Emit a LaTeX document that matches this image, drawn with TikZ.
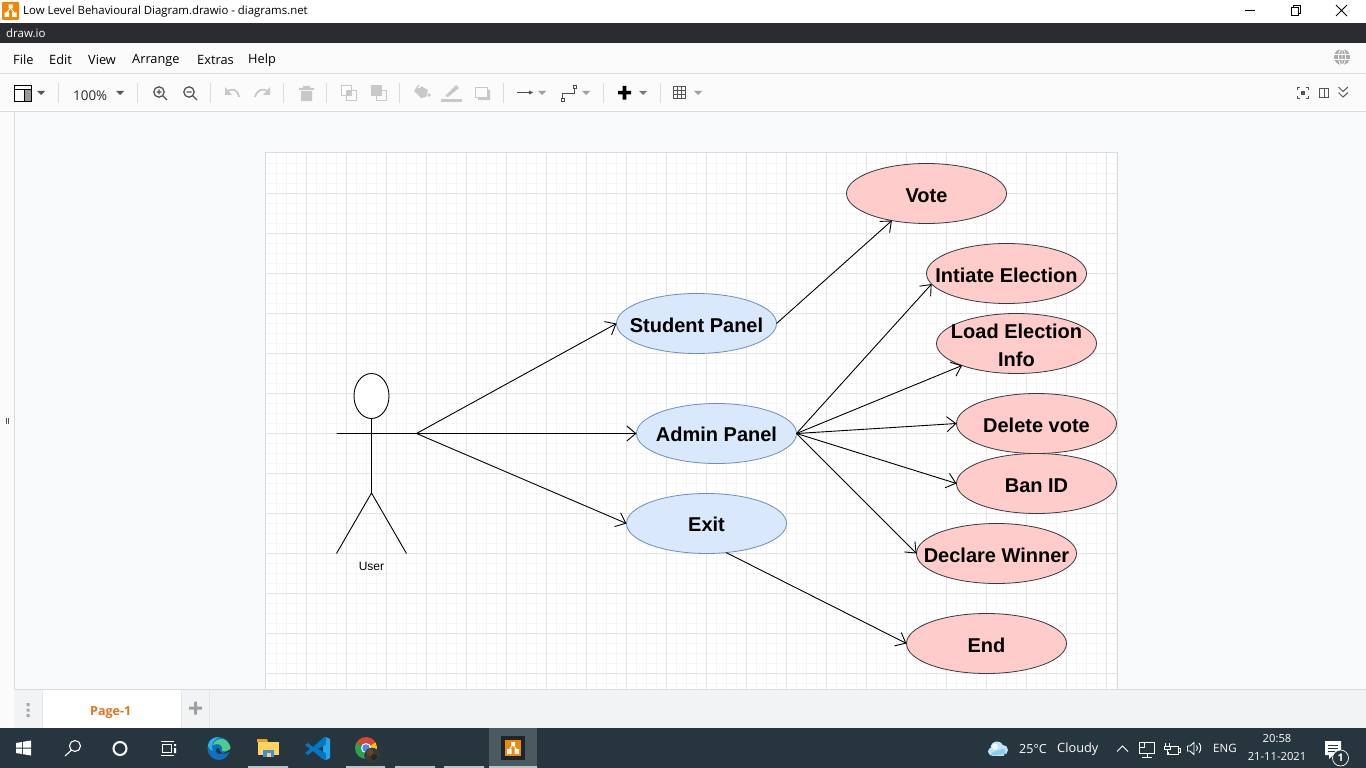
\documentclass[tikz,border=0pt]{standalone}
\usepackage{fontspec}
\setmainfont{Liberation Sans}
\newfontfamily\uifont{Open Sans}
\usetikzlibrary{arrows.meta,shapes.geometric}
\definecolor{barDark}{HTML}{2A2C30}
\definecolor{uiBg}{HTML}{FBFBFB}
\definecolor{uiLine}{HTML}{DADCE0}
\definecolor{canvasBg}{HTML}{F8F9FA}
\definecolor{tabBg}{HTML}{F1F3F4}
\definecolor{taskBg}{HTML}{27353E}
\definecolor{taskHi}{HTML}{4B5960}
\definecolor{drawOrange}{HTML}{F08705}
\definecolor{pageOrange}{HTML}{E8711A}
\definecolor{iconDark}{HTML}{555555}
\definecolor{iconGrey}{HTML}{C8C8C8}
\definecolor{gridMajor}{HTML}{E4E4E4}
\definecolor{gridMinor}{HTML}{F5F5F5}
\definecolor{blueFill}{HTML}{DAE8FC}
\definecolor{blueLine}{HTML}{6C8EBF}
\definecolor{redFill}{HTML}{FFCCCC}
\definecolor{redLine}{HTML}{36393D}
\definecolor{edgeBlue}{HTML}{0F6FC0}
\definecolor{edgeCyan}{HTML}{2BB3E8}
\definecolor{edgeGreen}{HTML}{4FCB8A}
\definecolor{folderY}{HTML}{FFD35C}
\definecolor{folderO}{HTML}{E8A317}
\definecolor{folderB}{HTML}{3C8FD8}
\definecolor{codeL}{HTML}{0078C4}
\definecolor{codeR}{HTML}{22A7F0}
\definecolor{chromeR}{HTML}{DB4437}
\definecolor{chromeG}{HTML}{2E9E50}
\definecolor{chromeY}{HTML}{F4C20D}
\definecolor{chromeB}{HTML}{4A8AF0}
\definecolor{cloudA}{HTML}{BFE3F7}
\definecolor{cloudB}{HTML}{8CCBEE}
\tikzset{
  blueUse/.style={ellipse,draw=blueLine,fill=blueFill,line width=.8pt,minimum width=160pt,minimum height=60pt,inner xsep=-40pt,inner ysep=-25pt,outer sep=0pt,align=center,font=\fontsize{20}{28}\selectfont\bfseries},
  redUse/.style={blueUse,draw=redLine,fill=redFill},
  link/.style={line width=.9pt,-{Straight Barb[length=9pt,width=15pt,line width=.9pt]}},
  stick/.style={line width=.9pt,black},
  ui/.style={inner sep=0pt,anchor=west,font=\uifont\fontsize{12.8}{15}\selectfont,text=#1},
  ui/.default=black,
  tbdark/.style={draw=iconDark,line width=1.2pt},
  tbgrey/.style={draw=iconGrey,line width=1.2pt},
  sep/.style={draw=uiLine,line width=1pt}
}
\newcommand{\drop}[3]{\fill[#3] (#1-4,#2-2) -- (#1+4,#2-2) -- (#1,#2+2) -- cycle;}
\newcommand{\ulbl}[1]{\raisebox{-1.8pt}[\height][\depth]{#1}}
\newcommand{\ulblhi}[1]{\raisebox{-.5pt}[\height][\depth]{#1}}
\begin{document}
\begin{tikzpicture}[x=1pt,y=-1pt]
\useasboundingbox (0,0) rectangle (1366,768);
% --- window background
\fill[white] (0,0) rectangle (1366,23);
\fill[barDark] (0,23) rectangle (1366,43);
\fill[uiBg] (0,43) rectangle (1366,112);
\draw[uiLine] (0,73.5) -- (1366,73.5) (0,111.5) -- (1366,111.5);
\fill[canvasBg] (14,112) rectangle (1366,690);
\fill[uiBg] (0,112) rectangle (14,728);
\draw[uiLine] (14.5,112) -- (14.5,728);
% --- page and grid
\fill[white] (266,153) rectangle (1117,690);
\foreach \k in {1,...,85} {\draw[gridMinor,line width=1pt] (266+10*\k+.5,153) -- (266+10*\k+.5,690);}
\foreach \k in {1,...,53} {\draw[gridMinor,line width=1pt] (266,153+10*\k+.5) -- (1117,153+10*\k+.5);}
\foreach \k in {1,...,21} {\draw[gridMajor,line width=1pt] (266+40*\k+.5,153) -- (266+40*\k+.5,690);}
\foreach \k in {1,...,13} {\draw[gridMajor,line width=1pt] (266,153+40*\k+.5) -- (1117,153+40*\k+.5);}
\draw[uiLine,line width=1pt] (265.5,690) -- (265.5,152.5) -- (1117.5,152.5) -- (1117.5,690);
% --- title bar
\fill[drawOrange,rounded corners=1pt] (2,2) rectangle (19,20);
\fill[white] (8.5,4.5) rectangle (12.5,8.5) (4.5,12.5) rectangle (9,17) (12,12.5) rectangle (16.5,17);
\draw[white,line width=1pt] (10.5,8) -- (6.7,13) (10.5,8) -- (14.3,13);
\node[ui,font=\uifont\fontsize{11.4}{14}\selectfont] (title) at (23,11.5) {Low Level Behavioural Diagram.drawio - diagrams.net};
\draw[black,line width=1pt] (1245,10.5) -- (1255,10.5);
\draw[black,line width=1pt] (1291.5,7.5) rectangle (1298.5,15.5) (1293.5,7.5) -- (1293.5,5.5) -- (1300.5,5.5) -- (1300.5,13.5) -- (1298.5,13.5);
\draw[black,line width=.9pt] (1336,5) -- (1347,16) (1347,5) -- (1336,16);
\node[ui=white,font=\uifont\fontsize{11.5}{14}\selectfont] (appname) at (6,33) {draw.io};
% --- menu
\node[ui] (mfile) at (13,60) {File};
\node[ui] (medit) at (49,60) {Edit};
\node[ui] (mview) at (88,60) {View};
\node[ui] (marr) at (132,60) {Arrange};
\node[ui] (mext) at (197,60) {Extras};
\node[ui] (mhelp) at (248,60) {Help};
% globe
\fill[iconGrey!85!black] (1342,57) circle (8);
\draw[white,line width=.8pt] (1342,57) ellipse (3.5 and 8) (1334,54.5) -- (1350,54.5) (1334,59.5) -- (1350,59.5) (1342,49) -- (1342,65);
% --- toolbar
\draw[black,line width=1pt] (14.5,85.5) rectangle (31.5,101.5) (14.5,89.5) -- (31.5,89.5) (24.5,89.5) -- (24.5,101.5);
\fill[gray!80] (25,90) rectangle (31,101);
\drop{41}{93}{iconDark}
\draw[sep] (58.5,83) -- (58.5,103);
\node[ui=black!85,font=\uifont\fontsize{13.4}{15}\selectfont] (zoomlevel) at (73,95.5) {100\%};
\drop{120}{93}{iconDark}
\draw[sep] (137.5,83) -- (137.5,103);
\draw[tbdark,line width=1.3pt] (159,92) circle (5.2) (163,96) -- (167,100) (156.5,92) -- (161.5,92) (159,89.5) -- (159,94.5);
\draw[tbdark,line width=1.3pt] (189,92) circle (5.2) (193,96) -- (197,100) (186.5,92) -- (191.5,92);
\draw[sep] (210.5,83) -- (210.5,103);
\draw[tbgrey,line width=1.8pt] (227,92) .. controls (232,87) and (238,90) .. (239,97);
\fill[iconGrey] (225,87) -- (225,95) -- (232,95) -- cycle;
\draw[tbgrey,line width=1.8pt] (268,92) .. controls (263,87) and (257,90) .. (255,97);
\fill[iconGrey] (270,87) -- (270,95) -- (263,95) -- cycle;
\draw[sep] (283.5,83) -- (283.5,103);
\fill[iconGrey] (299,88) rectangle (314,90) (303,86) rectangle (310,88) (301,91) rectangle (312,101);
\draw[sep] (326.5,83) -- (326.5,103);
\draw[tbgrey,line width=1pt] (341.5,85.5) rectangle (351.5,95.5) (346.5,90.5) rectangle (356.5,100.5);
\fill[white] (342,86) rectangle (351,95);
\fill[iconGrey] (346,90) rectangle (351,95);
\draw[tbgrey,line width=1pt] (371.5,85.5) rectangle (381.5,95.5) (376.5,90.5) rectangle (386.5,100.5);
\fill[iconGrey] (372,86) rectangle (381,95);
\draw[sep] (399.5,83) -- (399.5,103);
\fill[iconGrey] (419,85) -- (428,90) -- (426,97) -- (421,98) -- (414,91) -- cycle;
\fill[uiBg] (415,84) -- (422,84) -- (420,88) -- (416,88) -- cycle;
\draw[tbgrey] (416,89) -- (419,85);
\fill[iconGrey] (429,95) circle (1.8);
\fill[iconGrey] (441,99) rectangle (462,102);
\fill[iconGrey] (445,96) -- (456,85) -- (459,88) -- (448,97) -- cycle;
\draw[tbgrey,line width=1pt] (475.5,87.5) rectangle (487.5,97.5);
\fill[iconGrey] (478,98) rectangle (490,100) (488,90) rectangle (490,100);
\draw[sep] (503.5,83) -- (503.5,103);
\draw[black!70,line width=.9pt] (517,92.5) -- (531,92.5) (529,91) -- (532,92.5) -- (529,94);
\drop{542}{93}{iconGrey!80!black}
\draw[black!70,line width=1pt] (562.5,98.5) -- (562.5,93.5) -- (574.5,93.5) -- (574.5,88);
\fill[white,draw=black!70] (561,98) rectangle (564,101) (573,85.5) rectangle (576,88.5);
\drop{586}{93}{iconGrey!80!black}
\draw[sep] (603.5,83) -- (603.5,103);
\fill[black] (618,91) rectangle (631,94.5) (622.7,86) rectangle (626.3,99.5);
\drop{643}{93}{iconGrey!60!black}
\draw[sep] (660.5,83) -- (660.5,103);
\draw[iconDark,line width=.9pt] (673.5,86.5) rectangle (685.5,98.5) (673.5,90.5) -- (685.5,90.5) (673.5,94.5) -- (685.5,94.5) (677.5,86.5) -- (677.5,98.5) (681.5,86.5) -- (681.5,98.5);
\drop{698}{93}{iconGrey!80!black}
\draw[iconDark,line width=1.3pt] (1297.5,90) -- (1297.5,87.5) -- (1300,87.5) (1305.5,87.5) -- (1308.5,87.5) -- (1308.5,90) (1297.5,96) -- (1297.5,98.5) -- (1300,98.5) (1305.5,98.5) -- (1308.5,98.5) -- (1308.5,96);
\fill[iconDark] (1301,91) rectangle (1305,95);
\draw[iconDark,line width=.9pt] (1319,88.5) rectangle (1328,97.5) (1324,88.5) -- (1324,97.5);
\draw[iconDark,line width=1pt] (1338.5,87) -- (1343,91.5) -- (1348,87) (1338.5,92.5) -- (1343,97) -- (1348,92.5);
% left handle
\draw[iconDark,line width=.6pt] (6,418) -- (6,424) (8.5,418) -- (8.5,424);
% --- diagram: use cases
\node[blueUse] (student) at (696.5,323.5) {\ulbl{Student Panel}};
\node[blueUse] (admin) at (716.5,433.5) {\ulblhi{Admin Panel}};
\node[blueUse] (exit) at (706.5,523.5) {\ulblhi{Exit}};
\node[redUse] (vote) at (926.5,193.5) {\ulbl{Vote}};
\node[redUse] (initiate) at (1006.5,273.5) {\ulbl{Intiate Election}};
\node[redUse] (load) at (1016.5,343.5) {\ulbl{Load Election}\\\ulbl{Info}};
\node[redUse] (delete) at (1036.5,423.5) {\ulbl{Delete vote}};
\node[redUse] (ban) at (1036.5,483.5) {\ulbl{Ban ID}};
\node[redUse] (declare) at (996.5,553.5) {\ulbl{Declare Winner}};
\node[redUse] (end) at (986.5,643.5) {\ulbl{End}};
% --- actor
\node[ellipse,draw=black,fill=white,line width=.9pt,minimum width=35pt,minimum height=45pt,inner sep=0pt,outer sep=0pt] (head) at (371.5,396) {};
\coordinate (hip) at (371.5,493);
\coordinate (armL) at (336.5,433.5);
\coordinate (fork) at (416.5,433.5);
\coordinate (footL) at (336.5,553.5);
\coordinate (footR) at (406.5,553.5);
\draw[stick] (head.south) -- (hip) (hip) -- (footL) (hip) -- (footR) (armL) -- (fork);
\node[inner sep=0pt,font=\fontsize{12}{14}\selectfont] (user) at (371.5,566.5) {User};
% --- connectors
\draw[link] (fork) -- (student.west);
\draw[link] (fork) -- (admin.west);
\draw[link] (fork) -- (exit.west);
\draw[link] (student.east) -- (vote.218);
\draw[link] (admin.east) -- (initiate.188);
\draw[link] (admin.east) -- (load.202);
\draw[link] (admin.east) -- (delete.west);
\draw[link] (admin.east) -- (ban.west);
\draw[link] (admin.east) -- (declare.west);
\draw[link] (exit.304) -- (end.west);
% --- tab bar
\fill[tabBg] (14,690) rectangle (1366,728);
\draw[uiLine] (14,689.5) -- (1366,689.5);
\fill[white] (43,690) rectangle (181,728);
\draw[uiLine!70] (42.5,690) -- (42.5,728) (181.5,690) -- (181.5,728) (209.5,690) -- (209.5,728);
\fill[gray!70] (26.5,703) rectangle (29.5,706) (26.5,708.5) rectangle (29.5,711.5) (26.5,714) rectangle (29.5,717);
\node[ui=pageOrange,font=\uifont\bfseries\fontsize{12.5}{14}\selectfont] (page) at (90,713) {Page-1};
\fill[gray!75] (189,706.5) rectangle (202,709.5) (194,701.5) rectangle (197,714.5);
% --- task bar
\fill[taskBg] (0,728) rectangle (1366,768);
\fill[taskHi] (489,728) rectangle (537,768);
\fill[white] (16,743) -- (22,742) -- (22,747.5) -- (16,747.5) -- cycle (23,741.8) -- (31,740.5) -- (31,747.5) -- (23,747.5) -- cycle (16,748.5) -- (22,748.5) -- (22,754) -- (16,753) -- cycle (23,748.5) -- (31,748.5) -- (31,755.5) -- (23,754.2) -- cycle;
\draw[white,line width=1.1pt] (75,746) circle (5.5) (71,750.5) -- (65,756);
\draw[white,line width=2pt] (120,748.5) circle (6.5);
\draw[white,line width=1pt] (161,741.5) -- (174,741.5) (161,755.5) -- (174,755.5) (162.5,744.5) rectangle (171.5,752.5);
\fill[white] (174,744) rectangle (176,746) (174,748) rectangle (176,753);
% edge
\fill[edgeBlue] (219,748.5) circle (11.5);
\fill[edgeCyan] (207.8,746) .. controls (209,739) and (214,737) .. (219,737) .. controls (214,740) and (210,744) .. (213,751) .. controls (211,750) and (209,749) .. (207.8,746) -- cycle;
\fill[edgeGreen] (213,745) .. controls (215,738) and (226,735) .. (230.5,747) .. controls (230.5,751) and (226,752) .. (222,751) .. controls (224,746) and (219,742) .. (213,745) -- cycle;
\fill[taskBg] (222.5,753.5) .. controls (226,754) and (229,753) .. (230.5,750) .. controls (229,755) and (226,759) .. (222,760) -- (229,760) -- (232,750) -- (231,749) -- cycle;
\fill[taskBg] (217,748) .. controls (214,752) and (218,755) .. (222.5,753.5) .. controls (220,752) and (219,750) .. (219,748) -- cycle;
% explorer
\fill[folderO] (257,739) -- (267,739) -- (268,742) -- (257,742) -- cycle;
\fill[folderY] (258,741.5) rectangle (279,755);
\fill[folderB] (263,750) rectangle (274,757);
\fill[folderY] (266.5,753) rectangle (270.5,757);
% vs code
\fill[codeR] (323,738) -- (326,737) -- (330,739) -- (330,758) -- (326,760) -- (322,758.5) -- (323,752.5) -- (323,744) -- cycle;
\fill[codeL] (323,738) -- (313,747) -- (308,743) -- (305,745) -- (310,749) -- (305,753) -- (308,755) -- (313,751) -- (322,758.5) -- (326,760) -- (326,753) -- (318,749) -- (326,744.5) -- (326,737) -- cycle;
% chrome
\fill[chromeR] (366,748) -- ++(-150:11) arc (-150:-30:11) -- cycle;
\fill[chromeY] (366,748) -- ++(-30:11) arc (-30:90:11) -- cycle;
\fill[chromeG] (366,748) -- ++(90:11) arc (90:210:11) -- cycle;
\fill[white] (366,748) circle (5);
\fill[chromeB] (366,748) circle (3.8);
\fill[black!78] (372,755.5) circle (7.8);
\fill[brown!55!black] (370,752.5) circle (3.5);
\fill[black!85!white] (374,757) circle (3);
% draw.io taskbar icon
\fill[black!60!taskHi] (501,736) rectangle (525,760);
\fill[drawOrange] (505,740) rectangle (521,756);
\fill[white] (511,742) rectangle (515,746) (507,749) rectangle (511.5,754) (514.5,749) rectangle (519,754);
\draw[white,line width=.8pt] (513,745) -- (509,750) (513,745) -- (517,750);
% underlines
\fill[white!70!taskBg] (248,766) rectangle (288,768) (346,766) rectangle (385,768) (395,766) rectangle (435,768) (444,766) rectangle (484,768) (489,766) rectangle (537,768);
% weather
\fill[cloudA] (997,748) circle (6.5) (1003,750) circle (5) (992,751.5) circle (4);
\fill[cloudA] (992,750) rectangle (1004,755.5);
\fill[cloudB] (1006,754) -- (990,755.5) -- (993,752) -- (1004,748.5) -- cycle;
\fill[white!80!cloudA] (995,746.5) circle (3);
\node[ui=white,font=\uifont\fontsize{12.5}{15}\selectfont] (temp) at (1019,749.5) {25°C};
\node[ui=white,font=\uifont\fontsize{12.8}{15}\selectfont] (sky) at (1057,749.5) {Cloudy};
\draw[white,line width=1pt] (1117,751.5) -- (1122.5,746) -- (1128,751.5);
\draw[white,line width=.9pt] (1139.5,742.5) rectangle (1154.5,753) (1147,753) -- (1147,757) (1142,757.5) -- (1152,757.5);
\fill[taskBg,draw=white,line width=.8pt] (1139,742) rectangle (1144,747);
\draw[white,line width=.9pt] (1168,746) rectangle (1178.5,754) (1178.5,748) -- (1180,748) -- (1180,752) -- (1178.5,752);
\fill[taskBg] (1163,742) rectangle (1171,752);
\draw[white,line width=.9pt] (1164,746) rectangle (1170,749) (1165,743) -- (1165,746) (1169,743) -- (1169,746) (1167,749) -- (1167,755);
\draw[white,line width=.9pt] (1187.5,746) -- (1190,746) -- (1194,742.5) -- (1194,754.5) -- (1190,751) -- (1187.5,751) -- cycle;
\draw[white,line width=.9pt] (1196.5,745.5) arc (-40:40:4) (1199,743) arc (-40:40:7.5);
\node[ui=white,font=\uifont\fontsize{11.5}{14}\selectfont] (lang) at (1213,748) {ENG};
\node[inner sep=0pt,text=white,font=\uifont\fontsize{11.2}{14}\selectfont] (clock) at (1277,739) {20:58};
\node[inner sep=0pt,text=white,font=\uifont\fontsize{11.2}{14}\selectfont] (date) at (1277,756.5) {21-11-2021};
\fill[white] (1325,741) rectangle (1341,755) (1329,755) -- (1333,755) -- (1329,759) -- cycle;
\draw[taskBg,line width=1pt] (1328,745.5) -- (1338,745.5) (1328,748.5) -- (1338,748.5) (1328,751.5) -- (1335,751.5);
\node[circle,draw=white,fill=taskBg,line width=.7pt,inner sep=0pt,minimum size=16pt,text=white,font=\uifont\bfseries\fontsize{10.5}{12}\selectfont] (badge) at (1340.5,758) {1};
\end{tikzpicture}
\end{document}
